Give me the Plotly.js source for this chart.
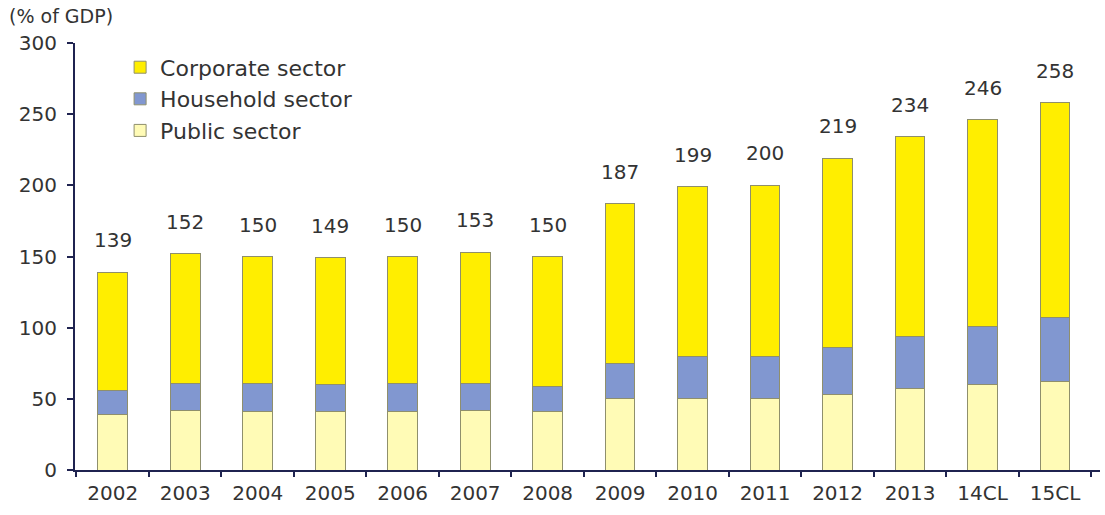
<!DOCTYPE html>
<html>
<head>
<meta charset="utf-8">
<script src="https://cdn.plot.ly/plotly-3.0.1.min.js"></script>
<style>html,body{margin:0;padding:0;background:#fff;}#chart{width:1105px;height:515px;}</style>
</head>
<body>
<div id="chart"></div>
<script>
const categories = ["2002","2003","2004","2005","2006","2007","2008","2009","2010","2011","2012","2013","14CL","15CL"];
const publicSector = [39, 42, 41, 41, 41, 42, 41, 50, 50, 50, 53, 57, 60, 62];
const householdSector = [17, 19, 20, 19, 20, 19, 18, 25, 30, 30, 33, 37, 41, 45];
const corporateSector = [83, 91, 89, 89, 89, 92, 91, 112, 119, 120, 133, 140, 145, 151];
const totals = [139, 152, 150, 149, 150, 153, 150, 187, 199, 200, 219, 234, 246, 258];
const yTicks = [0, 50, 100, 150, 200, 250, 300];

const FONT = "DejaVu Sans, Verdana, sans-serif";
const TXT = "#333333";
const AXIS = "#1f2350";
const outline = {color: "#8f8f6c", width: 1};

const traces = [
  {type: "bar", name: "Public sector", x: categories, y: publicSector,
   marker: {color: "#fffbb6", line: outline}, hoverinfo: "x+y+name"},
  {type: "bar", name: "Household sector", x: categories, y: householdSector,
   marker: {color: "#8197d0", line: outline}, hoverinfo: "x+y+name"},
  {type: "bar", name: "Corporate sector", x: categories, y: corporateSector,
   marker: {color: "#ffee00", line: outline}, hoverinfo: "x+y+name"}
];

// category index positions (numeric-looking category names are otherwise read as indices)
const annotations = categories.map((c, i) => ({
  x: i, y: totals[i], xref: "x", yref: "y", text: String(totals[i]),
  showarrow: false, yanchor: "middle", yshift: 32,
  font: {family: FONT, size: 20, color: TXT}
}));
annotations.push({
  xref: "paper", yref: "paper", x: -0.066, y: 1.0, yshift: 14,
  xanchor: "left", yanchor: "bottom", text: "(% of GDP)", showarrow: false,
  font: {family: FONT, size: 19, color: TXT}
});

const layout = {
  width: 1105, height: 515,
  margin: {l: 75, r: 5, t: 43, b: 45},
  paper_bgcolor: "#ffffff", plot_bgcolor: "#ffffff",
  barmode: "stack", bargap: 0.59,
  font: {family: FONT, size: 20, color: TXT},
  showlegend: true,
  legend: {
    x: 0.044, y: 0.992, xanchor: "left", yanchor: "top",
    traceorder: "reversed", bgcolor: "rgba(0,0,0,0)",
    font: {family: FONT, size: 22, color: TXT}, tracegroupgap: 0
  },
  xaxis: {
    type: "category", range: [-0.52, 13.62],
    showline: true, linecolor: AXIS, linewidth: 2,
    ticks: "outside", tickson: "boundaries", ticklen: 5, tickcolor: AXIS, tickwidth: 2,
    ticklabelstandoff: 4,
    showgrid: false, zeroline: false,
    tickfont: {family: FONT, size: 20, color: TXT}
  },
  yaxis: {
    range: [0, 300], tickvals: yTicks,
    showline: true, linecolor: AXIS, linewidth: 2,
    ticks: "outside", ticklen: 6, tickcolor: AXIS, tickwidth: 2,
    ticklabelstandoff: 6,
    showgrid: false, zeroline: false,
    tickfont: {family: FONT, size: 20, color: TXT}
  },
  annotations: annotations
};

Plotly.newPlot("chart", traces, layout, {displayModeBar: false, staticPlot: true});
</script>
</body>
</html>
